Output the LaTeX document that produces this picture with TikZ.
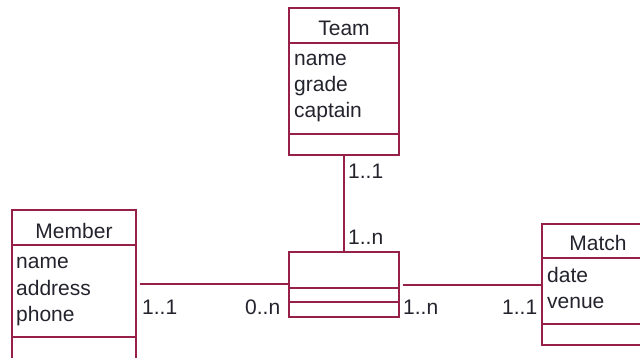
\documentclass[tikz,border=0pt]{standalone}
\usepackage{fontspec}
\setmainfont{Liberation Sans}
\usepackage{xcolor}
\usetikzlibrary{positioning}
\definecolor{umlred}{RGB}{150,32,72}
\definecolor{umltext}{RGB}{35,35,45}

\begin{document}
\begin{tikzpicture}[x=1pt, y=-1pt,
		classbox/.style={draw=umlred, line width=1.2pt, rectangle, inner sep=0pt},
		attr/.style={anchor=base west, inner sep=0pt, text=umltext, font=\fontsize{21}{24}\selectfont},
		title/.style={anchor=base, inner sep=0pt, text=umltext, font=\fontsize{21}{24}\selectfont},
		mult/.style={anchor=base west, inner sep=0pt, text=umltext, font=\fontsize{21}{24}\selectfont},
		link/.style={draw=umlred, line width=1.2pt}]
			\useasboundingbox (0,0) rectangle (640,358);
			\begin{scope}
			\clip (0,0) rectangle (640,358);

			% Class boxes
			\node[classbox, minimum width=110pt, minimum height=147pt] (team) at (344,81.5) {};
			\node[classbox, minimum width=124pt, minimum height=160pt] (member) at (74,290) {};
			\node[classbox, minimum width=118pt, minimum height=121pt] (match) at (601,284.5) {};
			\node[classbox, minimum width=110pt, minimum height=65pt] (assoc) at (344,284.5) {};

			% Compartment dividers
			\draw[link] (team.west |- 0,43) -- (team.east |- 0,43);
			\draw[link] (team.west |- 0,134) -- (team.east |- 0,134);
			\draw[link] (member.west |- 0,245) -- (member.east |- 0,245);
			\draw[link] (member.west |- 0,337) -- (member.east |- 0,337);
			\draw[link] (match.west |- 0,258) -- (match.east |- 0,258);
			\draw[link] (match.west |- 0,324) -- (match.east |- 0,324);
			\draw[link] (assoc.west |- 0,288) -- (assoc.east |- 0,288);
			\draw[link] (assoc.west |- 0,302) -- (assoc.east |- 0,302);
			\end{scope}

			% Class names
			\node[title] (teamname) at (344,36) {Team};
			\node[title] (membername) at (74,239) {Member};
			\node[title] (matchname) at (598,251) {Match};

			% Attributes
			\node[attr] (tname) at (294,66) {name};
			\node[attr] (tgrade) at (294,92) {grade};
			\node[attr] (tcaptain) at (294,118) {captain};
			\node[attr] (mname) at (16,269) {name};
			\node[attr] (maddress) at (16,295) {address};
			\node[attr] (mphone) at (16,321) {phone};
			\node[attr] (cdate) at (547,283) {date};
			\node[attr] (cvenue) at (547,308) {venue};

			% Associations
			\draw[link] (team.south) -- (assoc.north);
			\draw[link, shorten <=3pt] (member.east |- 0,284) -- (assoc.west |- 0,284);
			\draw[link, shorten <=3pt] (assoc.east |- 0,285) -- (match.west |- 0,285);

			% Multiplicities
			\node[mult] (m1) at (348,179) {1..1};
			\node[mult] (m2) at (348,245) {1..n};
			\node[mult] (m3) at (142,314) {1..1};
			\node[mult] (m4) at (245,314) {0..n};
			\node[mult] (m5) at (403,314) {1..n};
			\node[mult] (m6) at (502,314) {1..1};

		\end{tikzpicture}
\end{document}
